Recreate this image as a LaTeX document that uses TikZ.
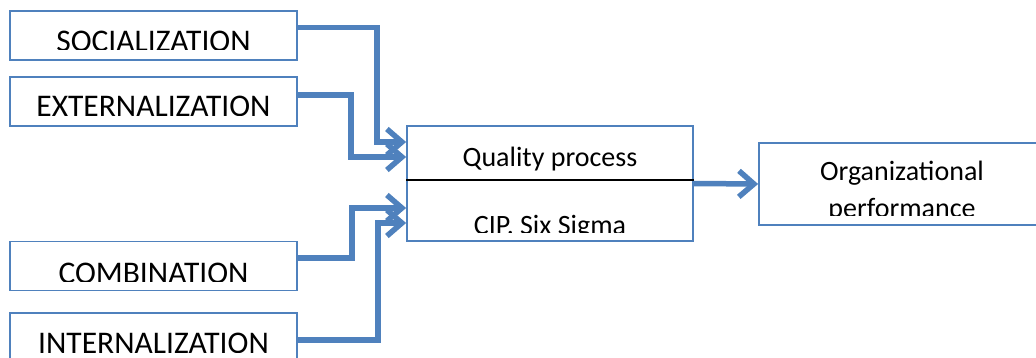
\documentclass[tikz,border=0pt]{standalone}
\usepackage{fontspec}
\setmainfont{Carlito}
\usetikzlibrary{arrows.meta}
\definecolor{flowblue}{HTML}{4F81BD}
\begin{document}
\begin{tikzpicture}[x=1pt,y=-1pt,
  box/.style={draw=flowblue,line width=1.8pt,inner sep=0pt,
    minimum width=287pt,minimum height=49pt},
  flow/.style={draw=flowblue,line width=5.5pt,line join=miter,
    -{Straight Barb[length=15pt,width=26pt]}},
  capslbl/.style={font=\fontsize{31.5}{36}\selectfont,anchor=base,inner sep=0pt},
  lbl/.style={font=\fontsize{28}{34}\selectfont,anchor=base,inner sep=0pt}]
\useasboundingbox (0,0) rectangle (1036,358);

% frames
\node[box] (soc) at (153.5,35.5) {};
\node[box] (ext) at (153.5,101.5) {};
\node[box] (comb) at (153.5,266) {};
\node[box] (int) at (153.5,337.5) {};
\node[box,minimum width=286pt,minimum height=115pt] (qual) at (550,183.5) {};
\node[box,minimum width=286pt,minimum height=82pt] (org) at (902,184) {};

% divider of the quality box
\draw[black,line width=1.2pt] ([yshift=3.5]qual.west) -- ([yshift=3.5]qual.east);

% labels, cut off at the lower text margin of each frame
\begin{scope}
  \clip (soc.north west) rectangle ([yshift=11.5]soc.south east);
  \node[capslbl] (socT) at (153.5,52) {SOCIALIZATION};
\end{scope}
\begin{scope}
  \clip (ext.north west) rectangle ([yshift=11]ext.south east);
  \node[capslbl] (extT) at (153.5,117) {EXTERNALIZATION};
\end{scope}
\begin{scope}
  \clip (comb.north west) rectangle ([yshift=10]comb.south east);
  \node[capslbl] (combT) at (153.5,283) {COMBINATION};
\end{scope}
\begin{scope}
  \clip (int.north west) rectangle ([yshift=10]int.south east);
  \node[capslbl] (intT) at (153.5,353) {INTERNALIZATION};
\end{scope}
\node[lbl] (qualT) at (550,167) {Quality process};
\begin{scope}
  \clip ([yshift=-3.5]qual.west) rectangle ([yshift=9]qual.south east);
  \node[lbl] (cipT) at (550,234) {CIP. Six Sigma};
\end{scope}
\node[lbl] (orgT) at (902,181) {Organizational};
\begin{scope}
  \clip (org.north west) rectangle ([yshift=10]org.south east);
  \node[lbl] (perfT) at (902,218) {performance};
\end{scope}

% connectors
\draw[flow] ([yshift=8]soc.east) -| (377,142) -- ([yshift=41.5]qual.west);
\draw[flow] ([yshift=6.5]ext.east) -| (351,157) -- ([yshift=26.5]qual.west);
\draw[flow] ([yshift=8]comb.east) -| (352,208) -- ([yshift=-24.5]qual.west);
\draw[flow] ([yshift=-2.5]int.east) -| (378,223) -- ([yshift=-39.5]qual.west);
\draw[flow] (qual.east) -- (org.west);
\end{tikzpicture}
\end{document}
